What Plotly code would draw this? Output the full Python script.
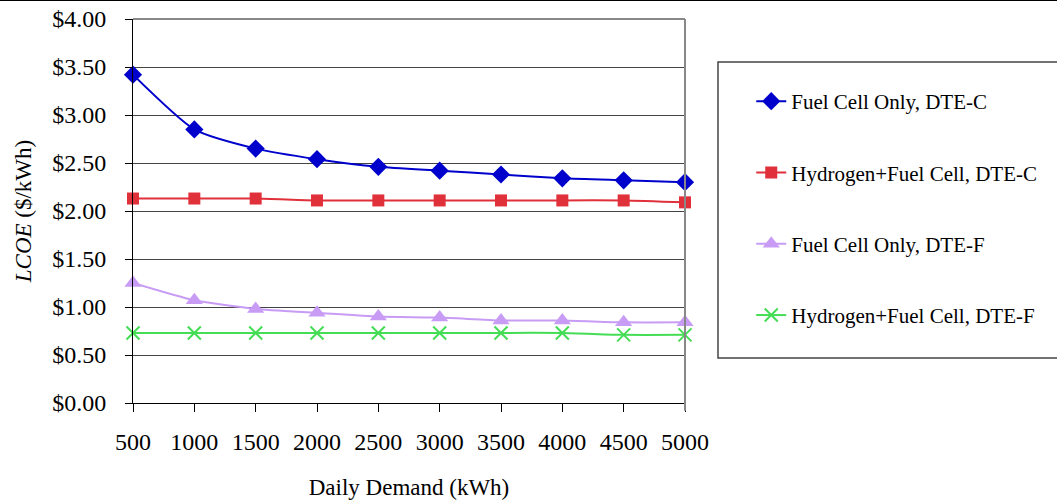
import plotly.graph_objects as go

demand = [500, 1000, 1500, 2000, 2500, 3000, 3500, 4000, 4500, 5000]
fc_only_c = [3.42, 2.85, 2.65, 2.54, 2.46, 2.42, 2.38, 2.34, 2.32, 2.30]
h2_fc_c = [2.13, 2.13, 2.13, 2.11, 2.11, 2.11, 2.11, 2.11, 2.11, 2.09]
fc_only_f = [1.25, 1.07, 0.98, 0.94, 0.90, 0.89, 0.86, 0.86, 0.84, 0.84]
h2_fc_f = [0.73, 0.73, 0.73, 0.73, 0.73, 0.73, 0.73, 0.73, 0.71, 0.71]

names = ["Fuel Cell Only, DTE-C", "Hydrogen+Fuel Cell, DTE-C",
         "Fuel Cell Only, DTE-F", "Hydrogen+Fuel Cell, DTE-F"]
series = [fc_only_c, h2_fc_c, fc_only_f, h2_fc_f]
colors = ["#0000CC", "#E0303A", "#C89BF5", "#44DD55"]
symbols = ["diamond", "square", "triangle-up", "x-thin"]
sizes = [14, 12, 15, 13]

FONT = "Liberation Serif, Times New Roman, serif"

fig = go.Figure()
for i, (nm, ys) in enumerate(zip(names, series)):
    marker = dict(symbol=symbols[i], size=sizes[i], color=colors[i])
    if symbols[i] == "x-thin":
        marker["line"] = dict(color=colors[i], width=2)
    fig.add_trace(go.Scatter(
        x=demand, y=ys, name=nm, mode="lines+markers",
        line=dict(color=colors[i], width=2, shape="spline", smoothing=0.6),
        marker=marker, legendgroup=f"g{i}", cliponaxis=False,
    ))

fig.update_layout(
    width=1057, height=501,
    margin=dict(l=133, r=372, t=19, b=98, autoexpand=False),
    paper_bgcolor="white", plot_bgcolor="white",
    font=dict(family=FONT, color="black", size=20),
    showlegend=True,
    legend=dict(x=1.12, y=0.8385, xanchor="left", yanchor="top",
                font=dict(family=FONT, size=21, color="black"),
                tracegroupgap=41, bgcolor="rgba(0,0,0,0)", borderwidth=0),
    xaxis=dict(range=[500, 5000], tickvals=demand, ticktext=[str(d) for d in demand],
               showgrid=False, zeroline=False, showline=True, linecolor="black", linewidth=1,
               ticks="outside", ticklen=8, tickcolor="black",
               tickfont=dict(family=FONT, size=24),
               ticklabelstandoff=9, automargin=False,
               title=dict(text="Daily Demand (kWh)", font=dict(family=FONT, size=23), standoff=25)),
    yaxis=dict(range=[0, 4], tickvals=[0, 0.5, 1, 1.5, 2, 2.5, 3, 3.5, 4],
               ticktext=["$0.00", "$0.50", "$1.00", "$1.50", "$2.00", "$2.50", "$3.00", "$3.50", "$4.00"],
               showgrid=True, gridcolor="#444444", gridwidth=1, zeroline=False,
               showline=True, linecolor="black", linewidth=1,
               ticks="outside", ticklen=7, tickcolor="black",
               tickfont=dict(family=FONT, size=24),
               ticklabelstandoff=14, automargin=False,
               title=dict(text="<i>LCOE</i> ($/kWh)", font=dict(family=FONT, size=23), standoff=14)),
    shapes=[
        dict(type="line", xref="paper", yref="paper", x0=0, x1=1, y0=1, y1=1,
             line=dict(color="#888888", width=2)),
        dict(type="line", xref="paper", yref="paper", x0=1, x1=1, y0=-0.02, y1=1,
             line=dict(color="#888888", width=2)),
        dict(type="rect", xref="paper", yref="paper", x0=(718 - 133) / 552, x1=2.0,
             y0=(403 - 358) / 384, y1=(403 - 62) / 384,
             line=dict(color="#444444", width=1.5)),
        dict(type="line", xref="paper", yref="paper", x0=-0.5, x1=2.0,
             y0=(403 + 0) / 384, y1=(403 + 0) / 384,
             line=dict(color="black", width=2)),
    ],
)

fig.write_html("out.html", config={"displayModeBar": False},
               post_script="document.body.style.margin='0';document.body.style.overflow='hidden';")
